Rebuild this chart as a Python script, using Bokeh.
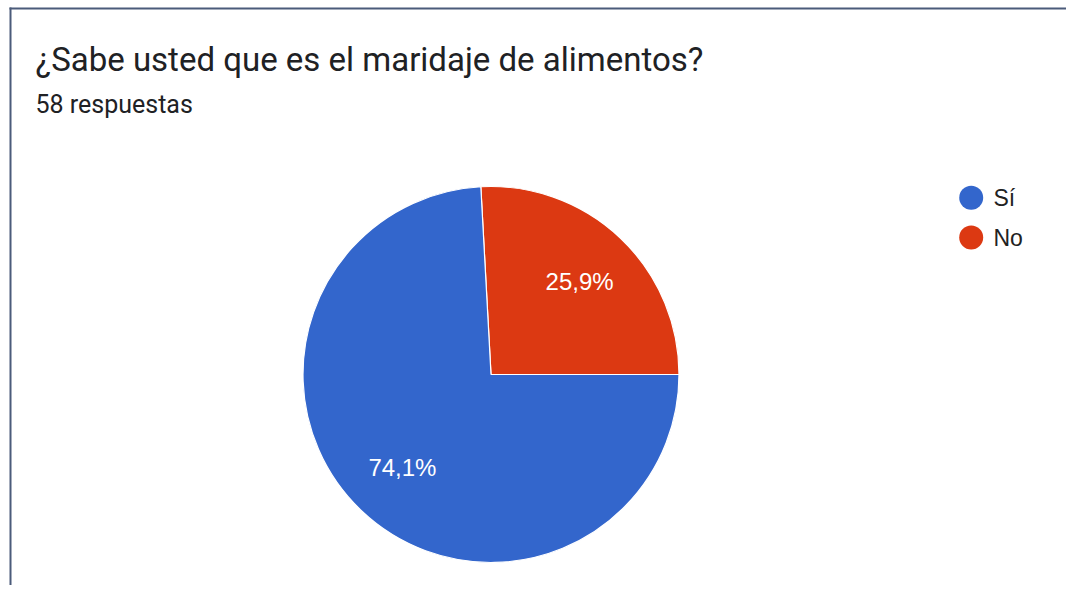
import math
from bokeh.plotting import figure
from bokeh.models import Range1d, ColumnDataSource
from bokeh.core.properties import value
from bokeh.embed import file_html
from bokeh.resources import INLINE

title = "¿Sabe usted que es el maridaje de alimentos?"
subtitle = "58 respuestas"
categories = ["Sí", "No"]
counts = [43, 15]
colors = ["#3366cc", "#dc3912"]

W, H = 1066, 585
p = figure(width=W, height=H, output_backend="svg", toolbar_location=None,
           x_range=Range1d(0, W), y_range=Range1d(0, H), min_border=0)
p.axis.visible = False
p.xgrid.visible = False
p.ygrid.visible = False
p.outline_line_color = None
p.background_fill_color = "white"

# card border (top and left edges, meeting at a corner)
bx, by = 10, H - 8
p.segment(x0=[bx - 1, bx], y0=[by, by + 1], x1=[W, bx], y1=[by, 0],
          line_color="#4b5b7a", line_width=2)

# pie: drawn counterclockwise from 3 o'clock, last category first
total = sum(counts)
order = list(reversed(range(len(categories))))
starts, ends, cols, labels, lx, ly = [], [], [], [], [], []
cx, cy, r = 490.5, 211.0, 188.0
a = 0.0
for i in order:
    frac = counts[i] / total
    s = a
    e = a + frac * 2 * math.pi
    starts.append(s)
    ends.append(e)
    cols.append(colors[i])
    labels.append(f"{frac*100:.1f}%".replace(".", ","))
    mid = (s + e) / 2
    lx.append(cx + 0.685 * r * math.cos(mid))
    ly.append(cy + 0.685 * r * math.sin(mid))
    a = e

src = ColumnDataSource(dict(start=starts, end=ends, color=cols, label=labels, lx=lx, ly=ly))
p.wedge(x=cx, y=cy, radius=r, start_angle="start", end_angle="end", fill_color="color",
        line_color="white", line_width=1.2, source=src)
p.text(x="lx", y="ly", text="label", source=src, text_color="white",
       text_font=value("Liberation Sans"), text_font_size="24px",
       text_align="center", text_baseline="middle")

# title texts
p.text(x=[35], y=[526], text=[title], text_font=value("Roboto"), text_font_size="33px",
       text_color="#202124", text_baseline="alphabetic")
p.text(x=[35], y=[481], text=[subtitle], text_font=value("Roboto"), text_font_size="25px",
       text_color="#202124", text_baseline="alphabetic")

# legend
leg_y = [387.7 - 39.7 * k for k in range(len(categories))]
p.scatter(x=[970.7] * len(categories), y=leg_y, size=24, marker="circle",
          fill_color=colors, line_color=None)
p.text(x=[993] * len(categories), y=leg_y, text=categories, text_font=value("Liberation Sans"),
       text_font_size="23px", text_color="#222222", text_baseline="middle")

open("out.html", "w").write(file_html(p, INLINE))
